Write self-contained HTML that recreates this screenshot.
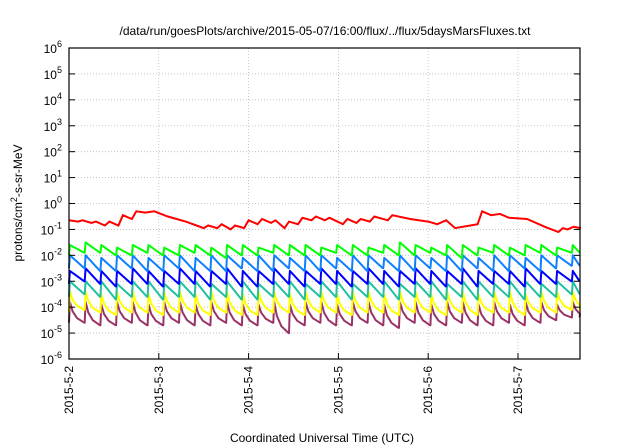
<!DOCTYPE html>
<html><head><meta charset="utf-8"><style>
body{margin:0;background:#fff;}
svg{display:block;font-family:"Liberation Sans",sans-serif;}
</style></head><body>
<svg id="chart" width="640" height="448">
<text x="325" y="35" text-anchor="middle" font-size="12">/data/run/goesPlots/archive/2015-05-07/16:00/flux/../flux/5daysMarsFluxes.txt</text>
<text x="322" y="442" text-anchor="middle" font-size="12">Coordinated Universal Time (UTC)</text>
<text transform="translate(22,203) rotate(-90)" text-anchor="middle" font-size="12">protons/cm<tspan dy="-5" font-size="9">2</tspan><tspan dy="5">-s-sr-MeV</tspan></text>
<g id="grid"></g><g id="series"></g><g id="axes"></g>
</svg>
<script>
const yTicks=[-6,-5,-4,-3,-2,-1,0,1,2,3,4,5,6];
const xTickLabels=["2015-5-2","2015-5-3","2015-5-4","2015-5-5","2015-5-6","2015-5-7"];
const toothTimes=[0,0.175,0.35,0.525,0.7,0.875,1.05,1.225,1.4,1.575,1.75,1.925,2.1,2.275,2.45,2.625,2.8,2.975,3.15,3.325,3.5,3.675,3.85,4.025,4.2,4.375,4.55,4.725,4.9,5.075,5.25,5.425,5.6];
const greenPeak=[-1.6,-1.5,-1.6,-1.7,-1.6,-1.6,-1.7,-1.6,-1.6,-1.7,-1.6,-1.6,-1.7,-1.6,-1.6,-1.6,-1.7,-1.6,-1.6,-1.7,-1.6,-1.5,-1.6,-1.7,-1.6,-1.6,-1.7,-1.6,-1.7,-1.6,-1.6,-1.7,-1.6];
const greenTrough=[-2.0,-1.9,-1.9,-2.0,-2.0,-1.9,-2.0,-2.0,-1.9,-2.0,-2.1,-2.0,-2.0,-1.9,-2.0,-2.0,-2.0,-1.9,-2.0,-2.0,-1.9,-2.0,-2.0,-1.9,-2.0,-2.1,-2.0,-1.9,-2.0,-2.0,-1.9,-2.0,-1.9];
const lbluePeak=[-2.0,-2.0,-2.1,-2.0,-2.0,-2.1,-2.0,-2.0,-2.1,-2.0,-2.0,-2.1,-2.0,-2.0,-2.1,-2.0,-2.0,-2.1,-2.0,-2.0,-2.1,-2.0,-2.0,-2.1,-2.0,-2.0,-2.1,-2.0,-2.0,-2.1,-2.0,-2.0,-2.0];
const lblueTrough=[-2.5,-2.5,-2.6,-2.6,-2.5,-2.6,-2.6,-2.5,-2.6,-2.6,-2.6,-2.5,-2.6,-2.6,-2.5,-2.6,-2.6,-2.5,-2.6,-2.6,-2.5,-2.6,-2.6,-2.5,-2.6,-2.6,-2.5,-2.6,-2.6,-2.5,-2.6,-2.5,-2.4];
const dbluePeak=[-2.6,-2.5,-2.6,-2.6,-2.5,-2.6,-2.6,-2.5,-2.6,-2.6,-2.5,-2.6,-2.6,-2.5,-2.6,-2.6,-2.5,-2.6,-2.6,-2.5,-2.6,-2.6,-2.5,-2.6,-2.6,-2.5,-2.6,-2.6,-2.6,-2.5,-2.6,-2.6,-2.6];
const dblueTrough=[-3.1,-3.0,-3.1,-3.2,-3.1,-3.1,-3.2,-3.1,-3.1,-3.2,-3.1,-3.2,-3.2,-3.1,-3.1,-3.2,-3.1,-3.1,-3.2,-3.1,-3.1,-3.2,-3.1,-3.1,-3.2,-3.1,-3.2,-3.1,-3.1,-3.2,-3.1,-3.1,-3.0];
const tealPeak=[-3.0,-3.0,-3.0,-3.1,-3.0,-3.0,-3.1,-3.0,-3.0,-3.1,-3.0,-3.0,-3.1,-3.0,-3.0,-3.1,-3.0,-3.0,-3.1,-3.0,-3.0,-3.1,-3.0,-3.0,-3.1,-3.0,-3.0,-3.1,-3.0,-3.0,-3.1,-3.0,-3.0];
const tealTrough=[-3.6,-3.5,-3.6,-3.7,-3.6,-3.6,-3.7,-3.6,-3.6,-3.7,-3.6,-3.7,-3.7,-3.6,-3.6,-3.7,-3.6,-3.6,-3.7,-3.6,-3.6,-3.7,-3.6,-3.6,-3.7,-3.6,-3.7,-3.6,-3.6,-3.7,-3.6,-3.6,-3.5];
const yellowPeak=[-3.4,-3.4,-3.5,-3.4,-3.4,-3.5,-3.4,-3.4,-3.5,-3.4,-3.4,-3.5,-3.4,-3.4,-3.5,-3.4,-3.4,-3.5,-3.4,-3.4,-3.5,-3.4,-3.4,-3.5,-3.4,-3.4,-3.5,-3.4,-3.4,-3.5,-3.4,-3.4,-3.4];
const yellowTrough=[-4.2,-4.1,-4.2,-4.3,-4.2,-4.2,-4.3,-4.2,-4.2,-4.3,-4.2,-4.3,-4.3,-4.2,-4.2,-4.3,-4.2,-4.2,-4.3,-4.2,-4.2,-4.3,-4.2,-4.2,-4.3,-4.2,-4.3,-4.2,-4.2,-4.3,-4.2,-4.2,-4.1];
const purplePeak=[-3.8,-3.8,-3.9,-3.8,-3.8,-3.9,-3.8,-3.8,-3.9,-3.8,-3.8,-3.9,-3.9,-3.8,-3.9,-3.8,-3.8,-3.9,-3.8,-3.8,-3.9,-3.8,-3.8,-3.9,-3.8,-3.8,-3.9,-3.8,-3.9,-3.8,-3.8,-3.9,-3.8];
const purpleTrough=[-4.6,-4.6,-4.7,-4.7,-4.6,-4.7,-4.7,-4.6,-4.7,-4.7,-4.6,-4.7,-4.7,-4.6,-5.0,-4.7,-4.6,-4.7,-4.7,-4.6,-4.7,-4.8,-4.6,-4.7,-4.7,-4.6,-4.7,-4.7,-4.6,-4.7,-4.6,-4.5,-4.4];
const redT=[0,0.1,0.15,0.25,0.3,0.4,0.45,0.55,0.6,0.7,0.75,0.85,0.95,1.1,1.3,1.5,1.55,1.65,1.7,1.8,1.85,1.95,2.0,2.1,2.15,2.25,2.3,2.4,2.45,2.55,2.6,2.7,2.75,2.85,2.9,3.05,3.1,3.2,3.25,3.35,3.4,3.55,3.6,3.8,4.0,4.1,4.2,4.3,4.55,4.6,4.7,4.8,4.9,5.1,5.3,5.45,5.5,5.55,5.62,5.7];
const redV=[-0.65,-0.7,-0.65,-0.75,-0.7,-0.85,-0.7,-0.85,-0.45,-0.6,-0.3,-0.35,-0.3,-0.5,-0.7,-0.95,-0.85,-0.95,-0.8,-1.0,-0.85,-0.95,-0.65,-0.8,-0.6,-0.75,-0.65,-0.95,-0.7,-0.8,-0.55,-0.65,-0.5,-0.65,-0.55,-0.8,-0.6,-0.75,-0.6,-0.7,-0.5,-0.65,-0.45,-0.6,-0.7,-0.8,-0.65,-0.95,-0.8,-0.3,-0.45,-0.4,-0.55,-0.6,-0.9,-1.1,-0.95,-1.0,-0.9,-0.95];
const X0=69,X1=580,Y0=48,Y1=359,DAYS=(580-69)/89.8;
const xs=d=>X0+(X1-X0)*d/DAYS;
const ys=l=>Y1-(Y1-Y0)*(l+6)/12;
const NS="http://www.w3.org/2000/svg";
const grid=document.getElementById('grid'),axes=document.getElementById('axes'),ser=document.getElementById('series');
function mk(tag,attrs,parent){const e=document.createElementNS(NS,tag);for(const k in attrs)e.setAttribute(k,attrs[k]);parent.appendChild(e);return e;}
yTicks.forEach(t=>{
  const y=ys(t);
  if(t>-6&&t<6){const g=mk('line',{x1:X0,x2:X1,y1:y,y2:y,stroke:'#bbb','stroke-width':0.8,'stroke-dasharray':'1,2'},grid);
  
  }
  const tk=mk('line',{x1:X0,x2:X0+6,y1:y,y2:y,stroke:'#000'},axes);
  
  
  const tk2=mk('line',{x1:X1-6,x2:X1,y1:y,y2:y,stroke:'#000'},axes);
  
  
  const tx=mk('text',{x:62,y:y+5,'text-anchor':'end','font-size':12},axes);
  
  
  tx.innerHTML='10<tspan dy="-6" font-size="9">'+t+'</tspan>';
});
xTickLabels.forEach((lb,i)=>{
  const x=xs(i);
  if(i>0){const g=mk('line',{x1:x,x2:x,y1:Y0,y2:Y1,stroke:'#bbb','stroke-width':0.8,'stroke-dasharray':'1,2'},grid);
  
  }
  const tk=mk('line',{x1:x,x2:x,y1:Y1-6,y2:Y1,stroke:'#000'},axes);
  
  
  const tx=mk('text',{transform:'translate('+(x+4)+',366) rotate(-90)','text-anchor':'end','font-size':12},axes);
  
  
  tx.textContent=lb;
});
const fr=mk('rect',{x:X0,y:Y0,width:X1-X0,height:Y1-Y0,fill:'none',stroke:'#000','stroke-width':1.2},axes);


function saw(peak,trough,color,name,curved){
  let pts=[];
  toothTimes.forEach((t,i)=>{
    pts.push([t,trough[i]]);
    pts.push([t+0.01,peak[i]]);
    const tn=i+1<toothTimes.length?toothTimes[i+1]:DAYS;
    const tv=i+1<trough.length?trough[i+1]:trough[i];
    if(curved){pts.push([t+0.04,peak[i]+(tv-peak[i])*0.45]);pts.push([t+0.09,peak[i]+(tv-peak[i])*0.78]);}
    pts.push([tn-0.005,tv]);
  });
  pts=pts.filter(p=>p[0]<=DAYS);
  const p=mk('polyline',{points:pts.map(p=>xs(p[0]).toFixed(1)+','+ys(p[1]).toFixed(1)).join(' '),fill:'none',stroke:color,'stroke-width':2,'stroke-linejoin':'round'},ser);
  
  
}
saw(purplePeak,purpleTrough,'#993366','series-purple',true);
saw(yellowPeak,yellowTrough,'#ffff00','series-yellow',true);
saw(tealPeak,tealTrough,'#20c0a0','series-teal',false);
saw(dbluePeak,dblueTrough,'#0000ff','series-dark-blue',false);
saw(lbluePeak,lblueTrough,'#1080ff','series-light-blue',false);
saw(greenPeak,greenTrough,'#00ff00','series-green',false);
const rp=mk('polyline',{points:redT.map((t,i)=>xs(t).toFixed(1)+','+ys(redV[i]).toFixed(1)).join(' '),fill:'none',stroke:'#ff0000','stroke-width':2},ser);


</script>
</body></html>
